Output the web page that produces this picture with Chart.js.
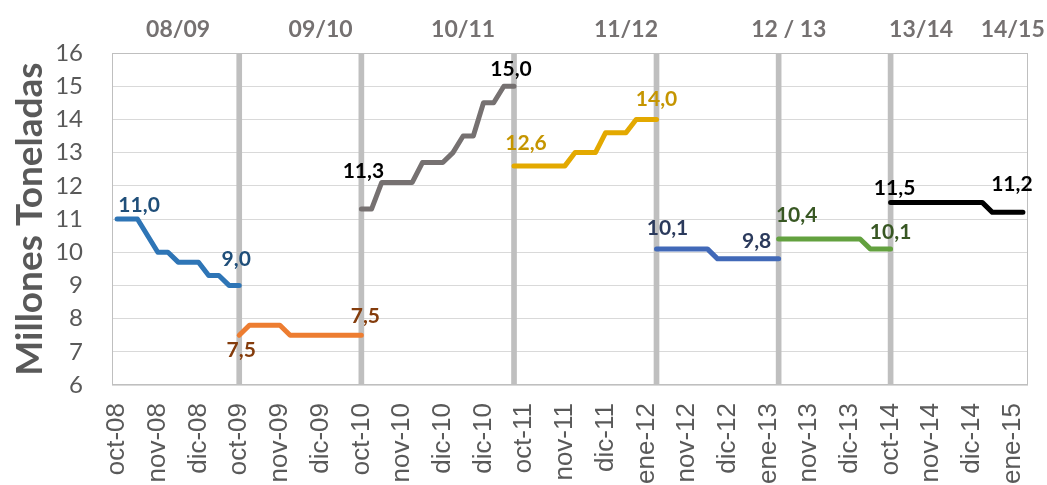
<!DOCTYPE html>
<html>
<head>
<meta charset="utf-8">
<script src="https://cdn.jsdelivr.net/npm/chart.js@4.4.1/dist/chart.umd.min.js"></script>
<style>
  html, body { margin: 0; padding: 0; background: #fff; }
</style>
</head>
<body>
<canvas id="chart" width="1047" height="485"></canvas>
<script>
// tick labels shown every 4th category
const tickLabels = ['oct-08', 'nov-08', 'dic-08', 'oct-09', 'nov-09', 'dic-09', 'oct-10', 'nov-10',
    'dic-10', 'dic-10', 'oct-11', 'nov-11', 'dic-11', 'ene-12', 'nov-12', 'dic-12', 'ene-13',
    'nov-13', 'dic-13', 'oct-14', 'nov-14', 'dic-14', 'ene-15'];
const nCat = 90;
const campaigns = ['08/09', '09/10', '10/11', '11/12', '12 / 13', '13/14', '14/15'];
const campaignIdx = [6, 20, 34, 50, 66, 79, 88];
const dividerIdx = [12, 24, 39, 53, 65, 76];
const yMin = 6;
const yMax = 16;

// one series per campaign, starting at seriesStart[k]
const seriesStart = [0, 12, 24, 39, 53, 65, 76];
const s0809 = [11.0, 11.0, 11.0, null, 10.0, 10.0, 9.7, 9.7, 9.7, 9.3, 9.3, 9.0, 9.0];
const s0910 = [7.5, 7.8, 7.8, 7.8, 7.8, 7.5, 7.5, 7.5, 7.5, 7.5, 7.5, 7.5, 7.5];
const s1011 = [11.3, 11.3, 12.1, 12.1, 12.1, 12.1, 12.7, 12.7, 12.7, 13.0, 13.5, 13.5, 14.5, 14.5, 15.0, 15.0];
const s1112 = [12.6, 12.6, 12.6, 12.6, 12.6, 12.6, 13.0, 13.0, 13.0, 13.6, 13.6, 13.6, 14.0, 14.0, 14.0];
const s1213 = [10.1, 10.1, 10.1, 10.1, 10.1, 10.1, 9.8, 9.8, 9.8, 9.8, 9.8, 9.8, 9.8];
const s1314 = [10.4, 10.4, 10.4, 10.4, 10.4, 10.4, 10.4, 10.4, 10.4, 10.1, 10.1, 10.1];
const s1415 = [11.5, 11.5, 11.5, 11.5, 11.5, 11.5, 11.5, 11.5, 11.5, 11.5, 11.2, 11.2, 11.2, 11.2];
const allSeries = [s0809, s0910, s1011, s1112, s1213, s1314, s1415];

const lineColors = ['#2e75b6', '#ed7d31', '#767171', '#e3a900', '#4169b8', '#63a13f', '#000000'];
const labelStyles = [
    { color: '#1f4e79', first: [22, -14], last: [-3, -26] },
    { color: '#843c0c', first: [2, 15], last: [4, -19] },
    { color: '#000000', first: [2, -38], last: [-3, -17] },
    { color: '#c59500', first: [12, -23], last: [0, -20] },
    { color: '#2b3a5c', first: [11, -21], last: [-22, -18] },
    { color: '#385723', first: [18, -24], last: [0, -17] },
    { color: '#000000', first: [4, -14], last: [-11, -28] }
];

const categories = Array.from({ length: nCat }, (_, i) => i % 4 === 0 ? tickLabels[i / 4] : '');
const topLabels = Array.from({ length: nCat }, (_, i) => {
    const k = campaignIdx.indexOf(i);
    return k >= 0 ? campaigns[k] : '';
});

function place(start, values) {
    const arr = new Array(nCat).fill(null);
    values.forEach((v, j) => { arr[start + j] = v; });
    return arr;
}

const dividerData = new Array(nCat).fill(null);
dividerIdx.forEach(i => { dividerData[i] = [yMin, yMax]; });

const datasets = allSeries.map((s, k) => ({
    label: campaigns[k],
    data: place(seriesStart[k], s),
    borderColor: lineColors[k],
    borderWidth: 5,
    borderCapStyle: 'round',
    borderJoinStyle: 'round',
    pointRadius: 0,
    spanGaps: true,
    fill: false,
    order: 1
}));
datasets.push({
    type: 'bar',
    label: 'div',
    data: dividerData,
    backgroundColor: '#bfbfbf',
    barThickness: 5,
    order: 10
});

const frame = {
    id: 'frame',
    beforeDatasetsDraw(chart) {
        const { ctx, chartArea: a } = chart;
        ctx.save();
        ctx.strokeStyle = '#bfbfbf';
        ctx.lineWidth = 1;
        ctx.strokeRect(a.left + 0.5, a.top + 0.5, a.width - 1, a.height - 1);
        ctx.restore();
    }
};

const endLabels = {
    id: 'endLabels',
    afterDatasetsDraw(chart) {
        const ctx = chart.ctx;
        ctx.save();
        ctx.font = 'bold 21px Lato';
        ctx.textAlign = 'center';
        ctx.textBaseline = 'middle';
        chart.data.datasets.forEach((ds, i) => {
            const st = labelStyles[i];
            if (!st) return;
            const meta = chart.getDatasetMeta(i);
            const idx = ds.data.map((v, j) => v === null ? -1 : j).filter(j => j >= 0);
            [[idx[0], st.first], [idx[idx.length - 1], st.last]].forEach(([j, off]) => {
                const pt = meta.data[j];
                ctx.fillStyle = st.color;
                ctx.fillText(ds.data[j].toFixed(1).replace('.', ','), pt.x + off[0], pt.y + off[1]);
            });
        });
        ctx.restore();
    }
};

// keep the plot area fixed, labels may overhang
function noSidePadding(s) {
    s.paddingLeft = 0;
    s.paddingRight = 0;
}

new Chart(document.getElementById('chart'), {
    type: 'line',
    data: {
        labels: categories,
        datasets: datasets
    },
    options: {
        responsive: false,
        animation: false,
        layout: {
            padding: { left: 0, right: 19, top: 0, bottom: 0 }
        },
        plugins: {
            legend: { display: false },
            tooltip: { enabled: false }
        },
        scales: {
            x: {
                type: 'category',
                position: 'bottom',
                offset: true,
                grid: { display: false, drawTicks: false },
                border: { display: false },
                ticks: {
                    autoSkip: false,
                    maxRotation: 90,
                    minRotation: 90,
                    padding: 18,
                    color: '#595959',
                    font: { family: '"Liberation Sans", Arial', size: 26 }
                },
                afterFit: s => { s.height = 100; noSidePadding(s); }
            },
            x2: {
                type: 'category',
                position: 'top',
                labels: topLabels,
                offset: true,
                grid: { display: false, drawTicks: false },
                border: { display: false },
                ticks: {
                    autoSkip: false,
                    maxRotation: 0,
                    minRotation: 0,
                    padding: 10,
                    color: '#757171',
                    font: { family: 'Lato', size: 23, weight: 'bold' }
                },
                afterFit: s => { s.height = 53; noSidePadding(s); }
            },
            y: {
                min: yMin,
                max: yMax,
                grid: { color: '#d9d9d9', drawTicks: false },
                border: { display: false },
                ticks: {
                    stepSize: 1,
                    padding: 29,
                    color: '#595959',
                    font: { family: 'Lato', size: 24 }
                },
                title: {
                    display: true,
                    text: 'Millones Toneladas',
                    color: '#595959',
                    font: { family: 'Lato', size: 37, weight: 'bold' },
                    padding: { top: 8, bottom: 0 }
                },
                afterFit: s => { s.width = 112; s.paddingTop = 0; s.paddingBottom = 0; }
            }
        }
    },
    plugins: [frame, endLabels]
});
</script>
</body>
</html>
